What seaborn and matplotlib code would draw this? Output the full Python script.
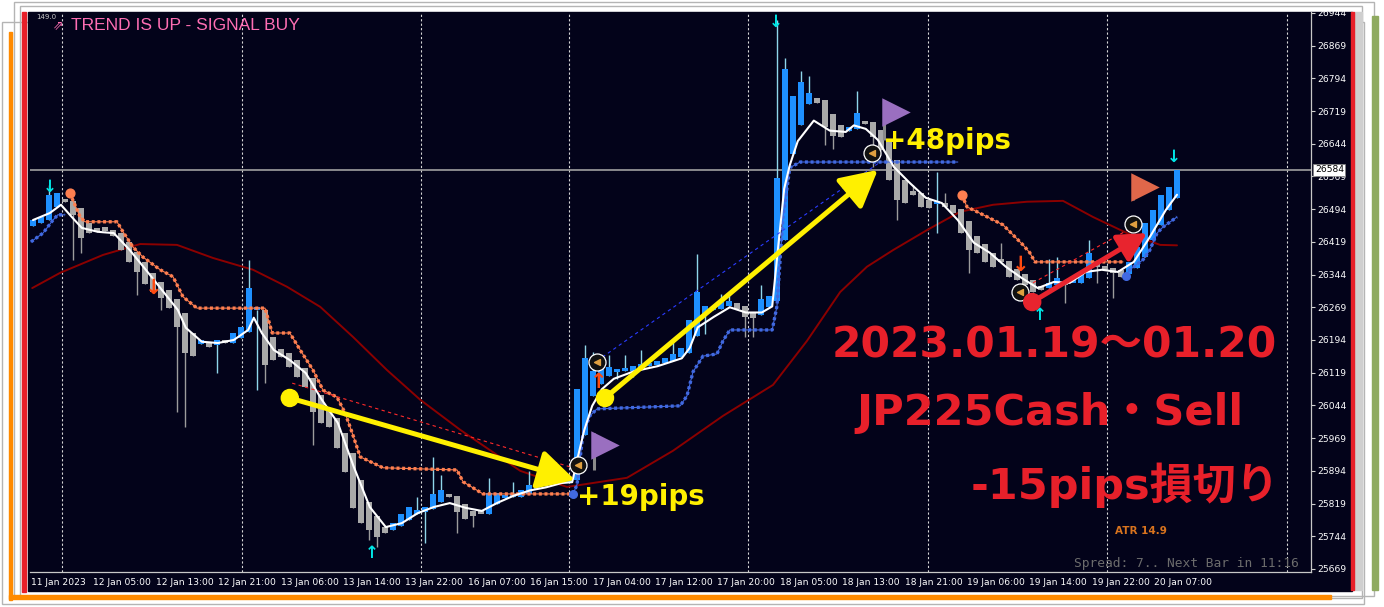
import matplotlib
matplotlib.use('Agg')
import matplotlib.pyplot as plt
from matplotlib.patches import Rectangle
import seaborn as sns
import pandas as pd
import numpy as np

sns.set_theme(style='dark')
plt.rcParams['font.family'] = ['DejaVu Sans', 'Noto Sans CJK JP']
plt.rcParams['axes.unicode_minus'] = False

# ---- JP225Cash H1, 11 Jan - 20 Jan 2023 ----
closes = [
    26469, 26476, 26527, 26530, 26511, 26481, 26428, 26439, 26442, 26445,
    26433, 26400, 26373, 26350, 26323, 26304, 26290, 26267, 26224, 26164,
    26158, 26194, 26178, 26194, 26187, 26210, 26224, 26313, 26263, 26137,
    26148, 26155, 26132, 26109, 26086, 26029, 26004, 25995, 25946, 25891,
    25809, 25774, 25758, 25742, 25752, 25774, 25795, 25811, 25804, 25811,
    25841, 25850, 25834, 25800, 25784, 25791, 25795, 25842, 25844, 25837,
    25835, 25849, 25861, 25868, 25866, 25873, 25868, 25878, 26081, 26152,
    26122, 26129, 26131, 26126, 26124, 26134, 26138, 26141, 26145, 26152,
    26162, 26176, 26240, 26304, 26271, 26268, 26280, 26283, 26264, 26247,
    26245, 26287, 26295, 26565, 26816, 26754, 26785, 26761, 26738, 26683,
    26662, 26660, 26683, 26714, 26690, 26659, 26630, 26561, 26515, 26508,
    26527, 26499, 26497, 26508, 26499, 26485, 26439, 26400, 26394, 26373,
    26362, 26373, 26339, 26332, 26320, 26304, 26309, 26325, 26336, 26320,
    26325, 26350, 26394, 26362, 26355, 26348, 26339, 26373, 26407, 26462,
    26492, 26527, 26545, 26584]
first_open = 26455

# wick extremes that stick out of the bodies
highs = {2: 26550, 27: 26378, 48: 25834, 50: 25926, 51: 25885, 57: 25878,
         60: 25869, 62: 25894, 63: 25887, 69: 26182, 70: 26166, 72: 26160,
         74: 26160, 76: 26170, 80: 26194, 83: 26390, 86: 26300, 87: 26305,
         91: 26320, 93: 26928, 94: 26841, 96: 26810, 97: 26800, 103: 26765,
         110: 26550, 113: 26579, 114: 26531, 121: 26417, 127: 26380,
         128: 26385, 132: 26423}
lows = {5: 26378, 6: 26394, 13: 26297, 16: 26263, 18: 26029, 19: 25995,
        23: 26118, 28: 26079, 29: 26095, 35: 25953, 42: 25735, 43: 25719,
        49: 25729, 53: 25752, 55: 25765, 71: 26100, 73: 26105, 75: 26110,
        84: 26208, 89: 26201, 90: 26201, 99: 26640, 100: 26632, 105: 26590,
        108: 26470, 113: 26439, 117: 26348, 129: 26279, 133: 26325,
        135: 26290}

# fast MA (white)
white_bar = [0.0, 2.1, 3.5, 4.6, 6.1, 8.1, 10.1, 12.1, 14.1, 16.1, 18.1, 19.1,
             21.1, 23.1, 25.1, 26.9, 27.6, 28.6, 30.1, 32.1, 34.1, 36.1, 38.1,
             40.1, 42.1, 44.1, 46.1, 48.1, 50.1, 52.1, 54.1, 56.1, 58.1, 60.1,
             62.1, 64.1, 66.1, 67.4, 68.1, 68.9, 69.9, 71.1, 72.6, 75.1, 78.1,
             81.1, 82.1, 83.1, 85.1, 87.1, 89.1, 91.1, 92.4, 93.1, 93.9, 94.6,
             95.6, 97.6, 99.6, 101.6, 102.6, 104.1, 105.6, 107.6, 109.6, 111.6,
             113.6, 115.6, 117.6, 119.6, 121.6, 123.6, 125.6, 127.6, 129.6,
             131.6, 133.6, 135.6, 137.6, 139.6, 141.6, 143.0]
white_price = [26469, 26485, 26504, 26481, 26451, 26442, 26439, 26400, 26355,
               26309, 26263, 26222, 26190, 26187, 26194, 26217, 26245, 26210,
               26171, 26148, 26118, 26057, 26004, 25903, 25811, 25765, 25774,
               25797, 25811, 25820, 25809, 25802, 25821, 25837, 25849, 25856,
               25866, 25868, 25925, 25987, 26043, 26081, 26105, 26122, 26134,
               26152, 26176, 26223, 26247, 26269, 26257, 26257, 26271, 26399,
               26541, 26595, 26650, 26697, 26674, 26671, 26686, 26678, 26653,
               26591, 26554, 26520, 26508, 26469, 26417, 26394, 26362, 26336,
               26313, 26327, 26325, 26350, 26355, 26350, 26373, 26430, 26492,
               26527]

# slow MA (dark red)
slow_bar = [-0.1, 3.4, 8.75, 13.4, 18.0, 22.5, 27.5, 31.75, 35.9, 40.0, 44.25,
            48.4, 53.4, 60.9, 66.75, 74.25, 80.0, 86.25, 92.5, 96.75, 100.9,
            104.25, 107.5, 111.75, 115.9, 120.0, 124.25, 128.75, 132.5,
            136.75, 140.9, 143.0]
slow_price = [26313, 26348, 26389, 26414, 26412, 26382, 26355, 26316, 26270,
              26201, 26125, 26057, 25988, 25894, 25857, 25878, 25940, 26020,
              26091, 26192, 26304, 26362, 26400, 26446, 26488, 26504, 26511,
              26513, 26476, 26439, 26412, 26411]

# trailing stops: orange (above price) and blue (below price)
stop_hi_bar = [[4.6, 5.9, 6.5, 10.5, 11.25, 12.5, 13.75, 15.9, 17.5, 18.75,
                20.5, 29.0, 29.9, 32.1, 33.4, 35.0, 36.25, 38.0, 39.0, 39.9,
                40.9, 42.5, 43.75, 53.0, 53.75, 56.25, 67.1],
               [116.1, 116.75, 118.0, 121.25, 122.5, 123.75, 124.6, 125.25,
                136.25]]
stop_hi_price = [[26531, 26476, 26465, 26465, 26442, 26407, 26384, 26355,
                  26339, 26293, 26267, 26267, 26210, 26210, 26171, 26125,
                  26079, 26063, 26027, 25981, 25926, 25912, 25901, 25896,
                  25869, 25841, 25841],
                 [26527, 26499, 26488, 26458, 26435, 26412, 26394, 26373,
                  26373]]
stop_lo_bar = [[-0.25, 1.25, 2.5, 3.1, 4.0],
               [67.5, 68.0, 68.75, 69.6, 70.5, 80.9, 81.75, 82.5, 83.75, 85.5,
                86.25, 87.1, 92.4, 93.0, 93.75, 94.6, 95.9, 115.6],
               [136.6, 137.1, 138.75, 139.6, 140.5, 141.25, 143.0]]
stop_lo_price = [[26419, 26439, 26469, 26481, 26481],
                 [25841, 25862, 25979, 26020, 26036, 26043, 26066, 26121,
                  26157, 26162, 26192, 26217, 26217, 26272, 26476, 26589,
                  26602, 26602],
                 [26341, 26355, 26378, 26400, 26439, 26453, 26476]]

# signal arrows
sig_down_bar, sig_down_price = [2.1, 92.9, 142.6], [26545, 26923, 26614]
sig_up_bar, sig_up_price = [42.4, 125.9], [25706, 26252]
sell_bar, sell_price = [15.1, 123.4], [26313, 26366]
buy_bar, buy_price = [70.75], [26098]
ring_bar = [68.1, 70.5, 104.9, 123.4, 137.5]
ring_price = [25907, 26144, 26623, 26304, 26460]

# order history lines (dashed) and the hand-drawn trade arrows
order_bar = [(32.4, 67.5), (70.5, 105.9), (125.0, 137.5)]
order_price = [(26095, 25901), (26146, 26602), (26325, 26453)]
order_color = ['#ff2a2a', '#2a3cff', '#ff2a2a']
trade_from_bar = [32.1, 71.5, 124.9]
trade_from_price = [26061, 26061, 26281]
trade_to_bar = [67.75, 105.6, 139.25]
trade_to_price = [25873, 26584, 26439]
trade_color = ['#fff000', '#fff000', '#e8242e']
trade_head = [50, 50, 38]
trade_label = ['+19pips', '+48pips']
label_bar = [68.0, 106.25]
label_price = [25834, 26650]

flag_bar = [70.1, 106.4, 137.5]
flag_top = [25981, 26744, 26572]
flag_bottom = [25896, 26653, 26515]
flag_color = ['#9a6fc0', '#9a6fc0', '#e0674a']

current_price = 26584
price_ticks = [25669 + 75 * k for k in range(18)]
time_labels = ['11 Jan 2023', '12 Jan 05:00', '12 Jan 13:00', '12 Jan 21:00',
               '13 Jan 06:00', '13 Jan 14:00', '13 Jan 22:00', '16 Jan 07:00',
               '16 Jan 15:00', '17 Jan 04:00', '17 Jan 12:00', '17 Jan 20:00',
               '18 Jan 05:00', '18 Jan 13:00', '18 Jan 21:00', '19 Jan 06:00',
               '19 Jan 14:00', '19 Jan 22:00', '20 Jan 07:00']
time_pos = [-0.25 + 7.8 * k for k in range(len(time_labels))]
day_breaks = [3.6, 26.1, 48.5, 67.0, 89.4, 111.9, 134.25, 156.75]

# ---- Heiken Ashi style candle table (open = midpoint of previous body) ----
ha_open = [first_open]
for c in closes[:-1]:
    ha_open.append((ha_open[-1] + c) / 2)
df = pd.DataFrame({'bar': np.arange(len(closes)), 'open': ha_open,
                   'close': closes})
df['up'] = df['close'] >= df['open']
df['high'] = df[['open', 'close']].max(axis=1)
df['low'] = df[['open', 'close']].min(axis=1)
for k, v in highs.items():
    df.loc[k, 'high'] = max(v, df.loc[k, 'high'])
for k, v in lows.items():
    df.loc[k, 'low'] = min(v, df.loc[k, 'low'])

# ---- figure + window decoration ----
W, H = 1384, 607
fig = plt.figure(figsize=(W / 100, H / 100), dpi=100, facecolor='white')
deco = fig.add_axes([0, 0, 1, 1], zorder=-5)
deco.set_xlim(0, W)
deco.set_ylim(H, 0)
deco.axis('off')
for r in [(14, 2, 1360, 594), (20, 6, 1342, 592), (2, 22, 1362, 582)]:
    deco.add_patch(Rectangle(r[:2], r[2], r[3], fill=False, ec='#b4b4b4', lw=1))
deco.add_patch(Rectangle((9, 32), 3, 568, color='#ff8a00'))
deco.add_patch(Rectangle((9, 595), 1322, 4, color='#ff8a00'))
deco.add_patch(Rectangle((1372, 16), 6, 574, color='#8faa60'))
deco.add_patch(Rectangle((1354, 12), 8, 578, color='#cfcfcf'))
deco.add_patch(Rectangle((28, 12), 1324, 579, color='#03031a'))
deco.add_patch(Rectangle((22, 12), 4, 580, color='#e8202a'))
deco.add_patch(Rectangle((1351, 12), 3, 578, color='#e8202a'))

ax = fig.add_axes([30 / W, 1 - 572 / H, (1311 - 30) / W, (572 - 12) / H])
ax.set_facecolor('#03031a')
ax.set_xlim(-0.375, 159.75)
ax.set_ylim(25662, 26946)
ax.grid(False)

for p in day_breaks:
    ax.axvline(p, color='#d8d8d8', lw=0.8, ls=(0, (2, 2)), zorder=1)
ax.axhline(current_price, color='#a0a0a0', lw=1.2, zorder=1)

# slow MA
sns.lineplot(x=slow_bar, y=slow_price, ax=ax, color='#8b0000', lw=1.4,
             sort=False, estimator=None, legend=False, zorder=2)

# candles
body_lo = df[['open', 'close']].min(axis=1)
body_h = (df['close'] - df['open']).abs().clip(lower=7)
ax.vlines(df['bar'], df['low'], df['high'],
          colors=np.where(df['up'], '#8fd6ea', '#9c9c9c'), lw=1, zorder=2)
ax.bar(df['bar'], body_h, bottom=body_lo, width=0.82, lw=0, zorder=3,
       color=np.where(df['up'], '#1e90ff', '#a9a9a9'))

# trailing stops
for bx, by in zip(stop_hi_bar, stop_hi_price):
    sns.lineplot(x=bx, y=by, ax=ax, color='#ff7f50', lw=0.8, sort=False,
                 estimator=None, legend=False, zorder=4)
    ax.plot(bx, by, color='#ff7f50', lw=2.4, ls=(0, (0.9, 0.8)), zorder=4)
    ax.scatter(bx[:1], by[:1], s=40, color='#ff7f50', zorder=4)
for bx, by in zip(stop_lo_bar, stop_lo_price):
    sns.lineplot(x=bx, y=by, ax=ax, color='#4169e1', lw=0.8, sort=False,
                 estimator=None, legend=False, zorder=4)
    ax.plot(bx, by, color='#4169e1', lw=2.4, ls=(0, (0.9, 0.8)), zorder=4)
    if bx[0] > 60:
        ax.scatter(bx[:1], by[:1], s=30, color='#4169e1', zorder=4)

# fast MA
sns.lineplot(x=white_bar, y=white_price, ax=ax, color='white', lw=1.5,
             sort=False, estimator=None, legend=False, zorder=5)

# order history lines
for bx, by, c in zip(order_bar, order_price, order_color):
    ax.plot(bx, by, color=c, lw=0.8, ls=(0, (3, 3)), zorder=6)

# ring markers
ax.scatter(ring_bar, ring_price, s=150, facecolors='#111111',
           edgecolors='white', lw=0.9, zorder=6)
ax.scatter(ring_bar, ring_price, s=18, marker='<', color='#e0a040', zorder=6)

# signal arrows
for b, p in zip(sig_down_bar, sig_down_price):
    ax.text(b, p, '↓', color='#00e5e5', fontsize=12, fontweight='bold',
            ha='center', va='center', zorder=7)
for b, p in zip(sig_up_bar, sig_up_price):
    ax.text(b, p, '↑', color='#00e5e5', fontsize=12, fontweight='bold',
            ha='center', va='center', zorder=7)
for b, p in zip(sell_bar, sell_price):
    ax.text(b, p, '↓', color='#ff4a10', fontsize=15, fontweight='bold',
            ha='center', va='center', zorder=7)
for b, p in zip(buy_bar, buy_price):
    ax.text(b, p, '↑', color='#ff4a10', fontsize=15, fontweight='bold',
            ha='center', va='center', zorder=7)

# flags
for b, t, bt, c in zip(flag_bar, flag_top, flag_bottom, flag_color):
    ax.vlines(b, bt, t, color='#8a8a8a', lw=2.2, zorder=6)
    ax.scatter([b + 1.45], [t - 27], marker='>', s=420, color=c, lw=0, zorder=6)

# trade arrows
for i in range(3):
    ax.annotate('', xy=(trade_to_bar[i], trade_to_price[i]),
                xytext=(trade_from_bar[i], trade_from_price[i]),
                arrowprops=dict(arrowstyle='-|>,head_length=0.45,head_width=0.24',
                                mutation_scale=trade_head[i], lw=3.6,
                                color=trade_color[i], shrinkA=0, shrinkB=0),
                zorder=8)
ax.scatter(trade_from_bar, trade_from_price, s=150, color=trade_color, zorder=8)
for t, b, p in zip(trade_label, label_bar, label_price):
    ax.text(b, p, t, color='#fff000', fontsize=20, fontweight='bold',
            ha='left', va='center', zorder=9)

# axes / ticks
ax.yaxis.tick_right()
ax.set_yticks(price_ticks)
ax.set_yticklabels([str(v) for v in price_ticks])
ax.set_xticks(time_pos)
ax.set_xticklabels(time_labels, ha='left')
ax.tick_params(axis='both', colors='#d0d0d0', labelcolor='white', length=3,
               width=0.8, direction='out', pad=1.5, labelsize=6.6)
ax.set_xlabel('')
ax.set_ylabel('')
for s in ['top', 'left']:
    ax.spines[s].set_visible(False)
for s in ['bottom', 'right']:
    ax.spines[s].set_color('#c8c8c8')
    ax.spines[s].set_linewidth(0.9)

# current price box
ax.text(1.003, current_price, str(current_price), transform=ax.get_yaxis_transform(),
        fontsize=6.6, color='black', ha='left', va='center', zorder=10,
        bbox=dict(boxstyle='square,pad=0.15', fc='white', ec='#808080', lw=0.5))

# corner texts (figure pixels)
def fxy(x, y):
    return x / W, 1 - y / H

fig.text(*fxy(36, 17), '149.0', fontsize=5, color='#c8c8c8', va='center')
fig.text(*fxy(53, 26), '⇗', fontsize=9, color='#ff6eb4', va='center')
fig.text(*fxy(71, 26), 'TREND IS UP - SIGNAL BUY', fontsize=12.5, color='#ff6eb4',
         va='center', family='Liberation Sans')
fig.text(*fxy(1054, 345), '2023.01.19～01.20', fontsize=30.5, fontweight='bold',
         color='#e8202a', ha='center', va='center')
fig.text(*fxy(1050, 413), 'JP225Cash・Sell', fontsize=31, fontweight='bold',
         color='#e8202a', ha='center', va='center')
fig.text(*fxy(1125, 485), '-15pips損切り', fontsize=31, fontweight='bold',
         color='#e8202a', ha='center', va='center')
fig.text(*fxy(1115, 531), 'ATR 14.9', fontsize=7.5, fontweight='bold',
         color='#d8731e', va='center')
fig.text(*fxy(1074, 564), 'Spread: 7.. Next Bar in 11:16', fontsize=9.3,
         color='#6c6c6c', va='center', family='DejaVu Sans Mono')

fig.savefig('out.png', dpi=100, facecolor='white')
